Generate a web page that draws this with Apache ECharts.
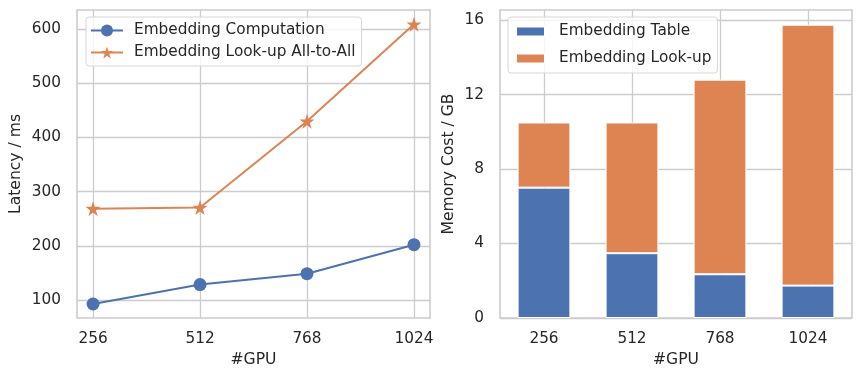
<!DOCTYPE html>
<html>
<head>
<meta charset="utf-8">
<script src="https://cdn.jsdelivr.net/npm/echarts@6/dist/echarts.min.js"></script>
<style>
  html, body { margin: 0; padding: 0; background: #fff; }
  #chart { width: 862px; height: 380px; }
</style>
</head>
<body>
<div id="chart"></div>
<script>
// data
const gpuCounts = [256, 512, 768, 1024];
const gpuLabels = ["256", "512", "768", "1024"];
const embComputation = [92.6, 128.5, 148.5, 202];
const embAllToAll = [268.5, 270.5, 429.5, 608.5];
const latencyTicks = [100, 200, 300, 400, 500, 600];

const embTable = [7.0, 3.48, 2.35, 1.74];
const embLookup = [3.5, 7.02, 10.45, 14.01];
const memoryTicks = [0, 4, 8, 12, 16];

const blue = "#4C72B0";
const orange = "#DD8452";
const txt = "#262626";
const gridCol = "#cccccc";
const font = "DejaVu Sans";
const fs = 15.3;

const starPath = "path://M50,0 L61.2,34.5 L97.6,34.5 L68.2,55.9 L79.4,90.5 L50,69.1 L20.6,90.5 L31.8,55.9 L2.4,34.5 L38.8,34.5 Z";

const chartDom = document.getElementById("chart");
const myChart = echarts.init(chartDom, null, { renderer: "canvas" });

const axisLabelStyle = { color: txt, fontSize: fs, fontFamily: font };
const nameStyle = { color: txt, fontSize: 15.6, fontFamily: font };

let option = {
    backgroundColor: "#fff",
    animation: false,
    textStyle: { fontFamily: font, fontSize: fs },
    grid: [
        { left: 77, top: 10, width: 353, height: 308, show: true, borderColor: gridCol, borderWidth: 1.6, backgroundColor: "#fff" },
        { left: 500, top: 10, width: 352, height: 308, show: true, borderColor: gridCol, borderWidth: 1.6, backgroundColor: "#fff" }
    ],
    legend: [
        {
            left: 86, top: 17,
            orient: "vertical",
            itemWidth: 32, itemHeight: 15, itemGap: 7,
            padding: [6, 6, 6, 4],
            backgroundColor: "rgba(255,255,255,0.8)",
            borderColor: "#d6d6d6", borderWidth: 1, borderRadius: 3,
            textStyle: { color: txt, fontSize: fs, fontFamily: font, padding: [0, 0, 0, 6] },
            data: ["Embedding Computation", "Embedding Look-up All-to-All"]
        },
        {
            left: 508, top: 17,
            orient: "vertical",
            itemWidth: 29, itemHeight: 10, itemGap: 12,
            padding: [7, 6, 7, 7],
            backgroundColor: "rgba(255,255,255,0.8)",
            borderColor: "#d6d6d6", borderWidth: 1, borderRadius: 3,
            textStyle: { color: txt, fontSize: fs, fontFamily: font, padding: [0, 0, 0, 9] },
            data: [
                { name: "Embedding Table", icon: "rect" },
                { name: "Embedding Look-up", icon: "rect" }
            ]
        }
    ],
    xAxis: [
        {
            type: "value", gridIndex: 0,
            min: 217.6, max: 1062.4,
            name: "#GPU", nameLocation: "middle", nameGap: 33, nameTextStyle: nameStyle,
            axisLine: { show: false },
            axisTick: { show: false, customValues: gpuCounts },
            axisLabel: { customValues: gpuCounts, margin: 14, formatter: v => String(v), ...axisLabelStyle },
            splitLine: { show: true, lineStyle: { color: gridCol, width: 1.3 } }
        },
        {
            type: "category", gridIndex: 1,
            data: gpuLabels,
            name: "#GPU", nameLocation: "middle", nameGap: 33, nameTextStyle: nameStyle,
            axisLine: { show: false },
            axisTick: { show: false, alignWithLabel: true },
            axisLabel: { margin: 14, ...axisLabelStyle },
            splitLine: { show: true, alignWithLabel: true, lineStyle: { color: gridCol, width: 1.3 } }
        }
    ],
    yAxis: [
        {
            type: "value", gridIndex: 0,
            min: 66.8, max: 634.8,
            name: "Latency / ms", nameLocation: "middle", nameGap: 53, nameTextStyle: nameStyle,
            axisLine: { show: false },
            axisTick: { show: false, customValues: latencyTicks },
            axisLabel: { customValues: latencyTicks, margin: 16, ...axisLabelStyle },
            splitLine: { show: true, lineStyle: { color: gridCol, width: 1.3 } }
        },
        {
            type: "value", gridIndex: 1,
            min: 0, max: 16.54,
            name: "Memory Cost / GB", nameLocation: "middle", nameGap: 43, nameTextStyle: nameStyle,
            axisLine: { show: false },
            axisTick: { show: false, customValues: memoryTicks },
            axisLabel: { customValues: memoryTicks, margin: 16, ...axisLabelStyle },
            splitLine: { show: true, lineStyle: { color: gridCol, width: 1.3 } }
        }
    ],
    series: [
        {
            name: "Embedding Computation", type: "line",
            xAxisIndex: 0, yAxisIndex: 0,
            data: gpuCounts.map((g, i) => [g, embComputation[i]]),
            symbol: "circle", symbolSize: 13,
            lineStyle: { color: blue, width: 2 },
            itemStyle: { color: blue },
            z: 3
        },
        {
            name: "Embedding Look-up All-to-All", type: "line",
            xAxisIndex: 0, yAxisIndex: 0,
            data: gpuCounts.map((g, i) => [g, embAllToAll[i]]),
            symbol: starPath, symbolSize: 15,
            lineStyle: { color: orange, width: 2 },
            itemStyle: { color: orange },
            z: 3
        },
        {
            name: "Embedding Table", type: "bar",
            xAxisIndex: 1, yAxisIndex: 1,
            stack: "mem", barWidth: "60%",
            data: embTable,
            itemStyle: { color: blue, borderColor: "#fff", borderWidth: 1 }
        },
        {
            name: "Embedding Look-up", type: "bar",
            xAxisIndex: 1, yAxisIndex: 1,
            stack: "mem", barWidth: "60%",
            data: embLookup,
            itemStyle: { color: orange, borderColor: "#fff", borderWidth: 1 }
        }
    ]
};
option && myChart.setOption(option);
</script>
</body>
</html>
